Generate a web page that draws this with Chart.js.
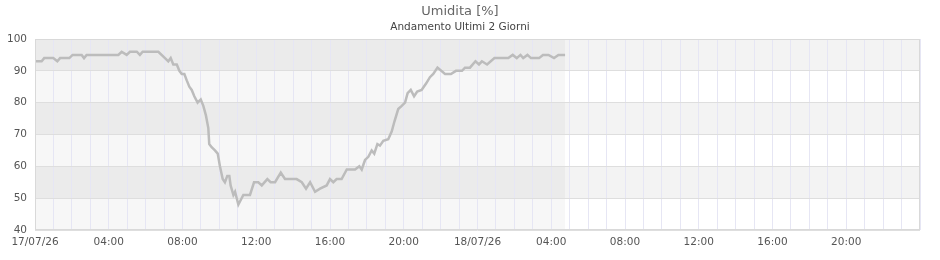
<!DOCTYPE html>
<html>
<head>
<meta charset="utf-8">
<script src="https://cdn.jsdelivr.net/npm/chart.js@4/dist/chart.umd.min.js"></script>
<style>
  html, body { margin: 0; padding: 0; background: #ffffff; }
  #wrap { width: 940px; height: 260px; }
</style>
</head>
<body>
<div id="wrap"><canvas id="c" width="940" height="260"></canvas></div>
<script>
// Hours elapsed since 17/07/26 00:00
const hours = [0, 0.36, 0.50, 0.99, 1.21, 1.36, 1.86, 2.04, 2.53, 2.66, 2.80, 4.52, 4.70, 4.97, 5.15, 5.52, 5.69, 5.84, 6.69,
  7.05, 7.23, 7.36, 7.50, 7.69, 7.83, 7.96, 8.10, 8.23, 8.37, 8.50, 8.64, 8.82, 8.99, 9.13, 9.27, 9.40, 9.45, 9.58, 9.76, 9.91,
  10.03, 10.18, 10.30, 10.43, 10.54, 10.61, 10.76, 10.85, 11.03, 11.30, 11.66, 11.88, 12.11, 12.30, 12.60, 12.78, 13.02, 13.33,
  13.56, 14.19, 14.47, 14.70, 14.92, 15.19, 15.46, 15.82, 16.00, 16.18, 16.36, 16.63, 16.91, 17.36, 17.59, 17.72, 17.90, 18.08,
  18.26, 18.40, 18.57, 18.71, 18.89, 19.16, 19.35, 19.49, 19.70, 19.89, 20.07, 20.21, 20.38, 20.56, 20.73, 20.97, 21.21, 21.42,
  21.60, 21.83, 22.24, 22.56, 22.83, 23.16, 23.32, 23.59, 23.89, 24.08, 24.24, 24.52, 24.92, 25.67, 25.91, 26.13, 26.33, 26.48,
  26.71, 26.90, 27.34, 27.55, 27.85, 28.15, 28.39, 28.75];
const humidity = [93, 93, 94, 94, 93, 94, 94, 95, 95, 94, 95, 95, 96, 95, 96, 96, 95, 96, 96,
  94, 93, 94, 92, 92, 90, 89, 89, 87, 85, 84, 82, 80, 81, 79, 76, 72, 67, 66, 65, 64,
  60, 56, 55, 57, 57, 54, 51, 52, 48, 51, 51, 55, 55, 54, 56, 55, 55, 58,
  56, 56, 55, 53, 55, 52, 53, 54, 56, 55, 56, 56, 59, 59, 60, 59, 62, 63,
  65, 64, 67, 66.5, 68, 68.5, 71, 74, 78, 79, 80, 83, 84, 82, 83.5, 84, 86, 88,
  89, 91, 89, 89, 90, 90, 91, 91, 93, 92, 93, 92, 94, 94, 95, 94, 95, 94,
  95, 94, 94, 95, 95, 94, 95, 95];
const yTicks = [40, 50, 60, 70, 80, 90, 100];
const dayLabels = ['17/07/26', '18/07/26'];
const titleText = 'Umidita [%]';
const subtitleText = 'Andamento Ultimi 2 Giorni';

const points = hours.map((h, i) => ({ x: h, y: humidity[i] }));

const bandsPlugin = {
  id: 'bands',
  beforeDraw(chart) {
    const { ctx, chartArea: a, scales: { x, y } } = chart;
    ctx.save();
    ctx.fillStyle = '#ffffff';
    ctx.fillRect(a.left, a.top, a.right - a.left, a.bottom - a.top);
    for (let i = 0; i < yTicks.length - 1; i++) {
      const y0 = y.getPixelForValue(yTicks[i]);
      const y1 = y.getPixelForValue(yTicks[i + 1]);
      ctx.fillStyle = (i % 2 === 1) ? '#f3f3f3' : '#ffffff';
      ctx.fillRect(a.left, y1, a.right - a.left, y0 - y1);
    }
    const xs = x.getPixelForValue(hours[0]);
    const xe = x.getPixelForValue(hours[hours.length - 1]);
    ctx.fillStyle = 'rgba(0,0,0,0.03)';
    ctx.fillRect(xs, a.top, xe - xs, a.bottom - a.top);
    ctx.restore();
  },
  afterDatasetsDraw(chart) {
    const { ctx, chartArea: a } = chart;
    ctx.save();
    ctx.strokeStyle = '#d9d9d9';
    ctx.lineWidth = 1;
    ctx.strokeRect(a.left + 0.5, a.top + 0.5, a.right - a.left - 1, a.bottom - a.top - 1);
    ctx.restore();
  }
};

new Chart(document.getElementById('c'), {
  type: 'line',
  data: {
    datasets: [{
      data: points,
      borderColor: '#bcbcbc',
      borderWidth: 2.5,
      pointRadius: 0,
      tension: 0,
      fill: false
    }]
  },
  options: {
    responsive: false,
    animation: false,
    layout: { padding: { left: 0, right: 20, top: 0, bottom: 0 } },
    plugins: {
      legend: { display: false },
      tooltip: { enabled: false },
      title: {
        display: true, text: titleText, color: '#666666',
        font: { family: 'DejaVu Sans', size: 13, weight: 'normal' },
        padding: { top: 4, bottom: 1 }
      },
      subtitle: {
        display: true, text: subtitleText, color: '#444444',
        font: { family: 'DejaVu Sans', size: 10.5, weight: 'normal' },
        padding: { top: 0, bottom: 5.8 }
      }
    },
    scales: {
      x: {
        type: 'linear', min: 0, max: 48,
        afterFit: (s) => { s.height = 30; },
        ticks: {
          stepSize: 1, autoSkip: false, maxRotation: 0, padding: 6,
          color: '#555555', font: { family: 'DejaVu Sans', size: 10.5 },
          callback: (v) => {
            if (v % 4 !== 0 || v === 48) return '';
            if (v % 24 === 0) return dayLabels[v / 24];
            return String(v % 24).padStart(2, '0') + ':00';
          }
        },
        grid: { color: '#e6e6f4', drawTicks: false },
        border: { display: false }
      },
      y: {
        min: 40, max: 100,
        afterFit: (s) => { s.width = 35; },
        ticks: {
          stepSize: 10, padding: 8, color: '#555555',
          font: { family: 'DejaVu Sans', size: 10.5 }
        },
        grid: { color: '#dedede', drawTicks: false },
        border: { display: false }
      }
    }
  },
  plugins: [bandsPlugin]
});
</script>
</body>
</html>
